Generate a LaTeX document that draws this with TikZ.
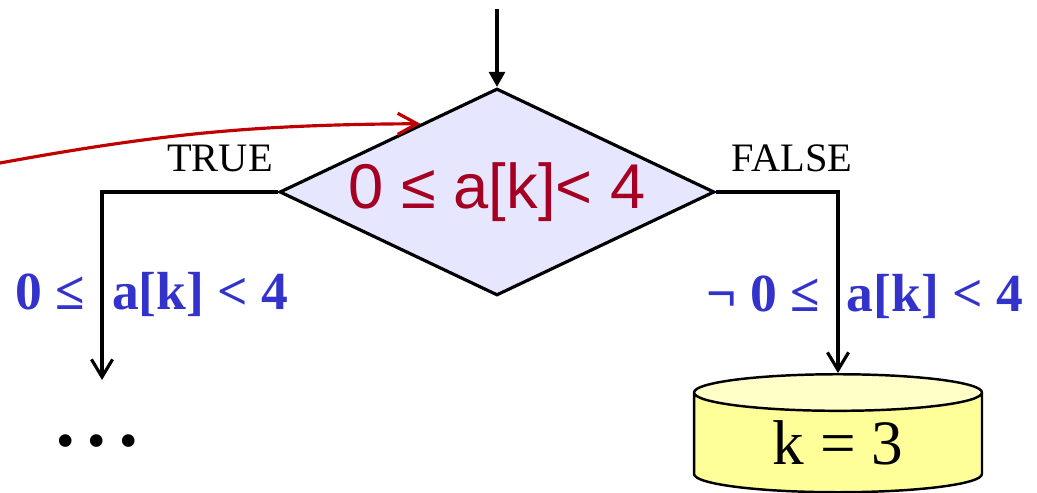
\documentclass[tikz,border=0pt]{standalone}
\usepackage{fontspec}
\setmainfont{Liberation Serif}
\newfontfamily\condfont{Liberation Sans}
\usepackage{xcolor}
\usetikzlibrary{arrows.meta, positioning, shapes.geometric, calc}

\definecolor{decfill}{HTML}{E6E6FF}
\definecolor{condred}{HTML}{A50021}
\definecolor{loopred}{HTML}{C00000}
\definecolor{pathblue}{HTML}{3333CC}
\definecolor{cylbody}{HTML}{FFFF99}
\definecolor{cyltop}{HTML}{FFFFC8}

\begin{document}
\begin{tikzpicture}[x=0.02cm, y=0.02cm,
    decision/.style={diamond, draw, line width=1.8pt, fill=decfill, aspect=2.1,
                     minimum width=8.7cm, minimum height=4.14cm, inner sep=0pt,
                     font=\condfont\fontsize{36}{40}\selectfont, text=condred},
    branch/.style={font=\fontsize{23}{27}\selectfont},
    guard/.style={font=\bfseries\fontsize{30.5}{36}\selectfont, text=pathblue, anchor=base},
    store/.style={cylinder, shape border rotate=90, draw, line width=1.4pt, aspect=0.28,
                  minimum width=5.76cm, minimum height=2.36cm, inner sep=0pt,
                  cylinder uses custom fill, cylinder body fill=cylbody,
                  cylinder end fill=cyltop, font=\fontsize{36}{40}\selectfont},
    arr/.style={-{Straight Barb[length=10pt, width=12pt]}, line width=1.8pt},
]
\useasboundingbox (0,0) rectangle (1037,493);

\node[decision] (dia) at (497,301) {0 ≤ a[k]< 4};
\node[store] (cyl) at (838,50) {k = 3};
\node[font=\fontsize{30}{34}\selectfont] (dots) at (97,46) {• • •};

\coordinate (entry) at (497,484);
\coordinate (back) at (0,330);
\coordinate (reentry) at ($(dia.west)!0.65!(dia.north)$);
\coordinate (trueend) at (102,113);

% labels of the two exits
\node[branch] (true) at (220,335) {TRUE};
\node[branch] (false) at (792,335) {FALSE};
\node[guard] (tguard) at (152,183) {0 ≤~~a[k] < 4};
\node[guard] (fguard) at (865,181) {¬ 0 ≤~~a[k] < 4};

\draw[-{Triangle[length=8.5pt, width=9pt]}, line width=1.8pt] (entry) -- (dia.north);
\draw[arr] (dia.west) -| (trueend);
\draw[arr] (dia.east) -| (cyl.north);
\draw[arr, loopred, -{Straight Barb[length=11pt, width=12pt]}]
    (back) to[bend left=5] (reentry);
\end{tikzpicture}
\end{document}
